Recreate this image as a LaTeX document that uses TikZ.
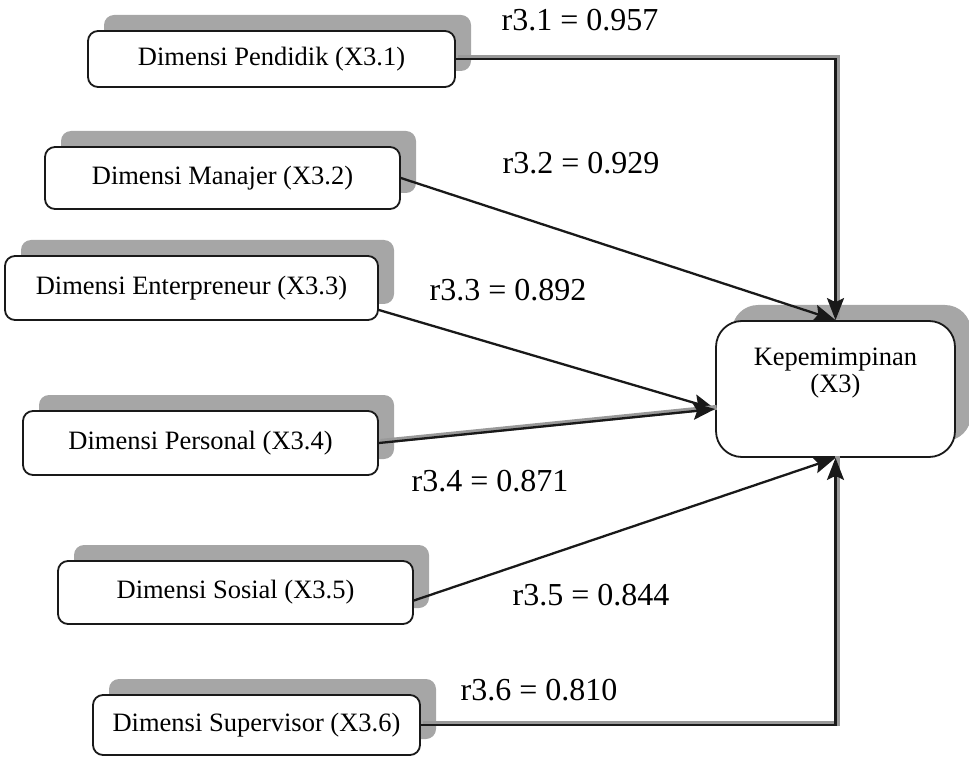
\documentclass[tikz,border=0pt]{standalone}
\usepackage{fontspec}
\setmainfont{Liberation Serif}
\usetikzlibrary{arrows.meta,shadows}
\begin{document}
\begin{tikzpicture}[x=1pt,y=-1pt,
  boxshadow/.style={drop shadow={shadow xshift=16pt, shadow yshift=16pt, fill=black!35, opacity=1}},
  dimbox/.style={draw=black!90, line width=1.8pt, fill=white, rounded corners=10pt,
    inner sep=0pt, font=\fontsize{26.5}{30}\selectfont, boxshadow},
  mainbox/.style={draw=black!90, line width=1.8pt, fill=white, rounded corners=26pt,
    inner sep=0pt, align=center, font=\fontsize{26.5}{27}\selectfont, boxshadow},
  coef/.style={font=\fontsize{32}{36}\selectfont, inner sep=0pt},
  link/.style={line width=2.3pt, draw=black!90,
    -{Stealth[length=22pt, width=17pt, inset=4pt]}},
  shadedlink/.style={link, preaction={draw=black!40, line width=5pt, arrows=-,
    transform canvas={xshift=1.6pt, yshift=1.6pt}}}
]
\useasboundingbox (0,0) rectangle (969,759);

% target construct
\node[mainbox, minimum width=239pt, minimum height=136pt] (K) at (835.5,389)
  {Kepemimpinan\\(X3)\\[10pt]\mbox{}};

% dimensions
\node[dimbox, minimum width=367pt, minimum height=56pt] (D1) at (271.5,59) {Dimensi Pendidik (X3.1)};
\node[dimbox, minimum width=355pt, minimum height=62pt] (D2) at (222.5,178) {Dimensi Manajer (X3.2)};
\node[dimbox, minimum width=373pt, minimum height=64pt] (D3) at (191.5,288) {Dimensi Enterpreneur (X3.3)};
\node[dimbox, minimum width=355pt, minimum height=64pt] (D4) at (200.5,443) {Dimensi Personal (X3.4)};
\node[dimbox, minimum width=355pt, minimum height=63pt] (D5) at (235.5,592.5) {Dimensi Sosial (X3.5)};
\node[dimbox, minimum width=327pt, minimum height=60pt] (D6) at (256.5,725) {Dimensi Supervisor (X3.6)};

% loadings
\draw[shadedlink] (D1.east) -| (K.north);
\draw[link] (D2.east) -- (K.north);
\draw[link] ([yshift=-22pt]D3.east) -- ([yshift=-20pt]K.west);
\draw[shadedlink] (D4.east) -- ([yshift=-20pt]K.west);
\draw[link] ([yshift=-8pt]D5.east) -- (K.south);
\draw[shadedlink] (D6.east) -| (K.south);

% coefficients
\node[coef] (r1) at (580,20)  {r3.1 = 0.957};
\node[coef] (r2) at (581,163) {r3.2 = 0.929};
\node[coef] (r3) at (508,290) {r3.3 = 0.892};
\node[coef] (r4) at (490,481) {r3.4 = 0.871};
\node[coef] (r5) at (591,595) {r3.5 = 0.844};
\node[coef] (r6) at (539,690) {r3.6 = 0.810};
\end{tikzpicture}
\end{document}
